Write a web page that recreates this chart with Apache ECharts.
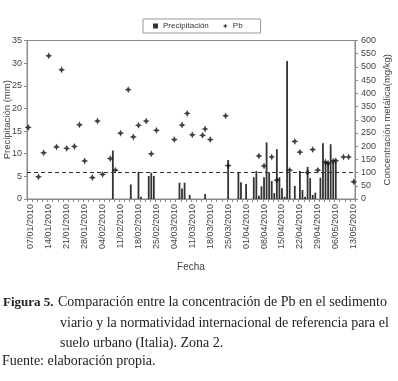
<!DOCTYPE html>
<html><head><meta charset="utf-8">
<script src="https://cdn.jsdelivr.net/npm/echarts@6/dist/echarts.min.js"></script>
<style>html,body{margin:0;padding:0;background:#fff}#c{width:398px;height:381px}</style>
</head><body><div id="c"></div>
<script>
// Daily categories 06/01/2010 .. 13/05/2010
const startDate = [2010, 0, 6];
const dayCount = 128;
const tickLabels = ['07/01/2010','14/01/2010','21/01/2010','28/01/2010','04/02/2010','11/02/2010','18/02/2010','25/02/2010','04/03/2010','11/03/2010','18/03/2010','25/03/2010','01/04/2010','08/04/2010','15/04/2010','22/04/2010','29/04/2010','06/05/2010','13/05/2010'];

const precipDates = ['08/02/2010','15/02/2010','18/02/2010','19/02/2010','22/02/2010','23/02/2010','24/02/2010','06/03/2010','07/03/2010','08/03/2010','10/03/2010','16/03/2010','25/03/2010','29/03/2010','30/03/2010','01/04/2010','04/04/2010','05/04/2010','06/04/2010','07/04/2010','08/04/2010','09/04/2010','10/04/2010','11/04/2010','12/04/2010','13/04/2010','14/04/2010','15/04/2010','16/04/2010','17/04/2010','18/04/2010','20/04/2010','22/04/2010','23/04/2010','24/04/2010','25/04/2010','26/04/2010','27/04/2010','28/04/2010','30/04/2010','01/05/2010','02/05/2010','03/05/2010','04/05/2010','05/05/2010','06/05/2010'];
const precipValues = [10.7,3.2,6.0,0.5,5.1,5.8,5.1,3.6,2.3,3.6,0.9,1.1,8.6,6.0,3.7,3.3,4.8,6.2,0.7,2.8,4.8,12.5,5.9,4.0,1.3,11.0,4.8,2.4,0.5,30.5,5.8,2.9,6.2,2.0,0.5,7.1,4.6,0.9,1.4,4.7,12.3,8.2,8.0,12.1,8.2,8.1];

const pbDates = ['06/01/2010','10/01/2010','12/01/2010','14/01/2010','17/01/2010','19/01/2010','21/01/2010','24/01/2010','26/01/2010','28/01/2010','31/01/2010','02/02/2010','04/02/2010','07/02/2010','09/02/2010','11/02/2010','14/02/2010','16/02/2010','18/02/2010','21/02/2010','23/02/2010','25/02/2010','04/03/2010','07/03/2010','09/03/2010','11/03/2010','15/03/2010','16/03/2010','18/03/2010','24/03/2010','25/03/2010','06/04/2010','08/04/2010','11/04/2010','13/04/2010','18/04/2010','20/04/2010','22/04/2010','25/04/2010','27/04/2010','29/04/2010','02/05/2010','03/05/2010','05/05/2010','06/05/2010','09/05/2010','11/05/2010','13/05/2010'];
const pbValues = [271,84,175,542,197,489,192,199,281,144,81,295,93,153,109,249,414,235,279,295,171,260,225,280,324,243,241,265,225,315,126,163,125,159,71,109,218,177,100,187,109,140,135,143,145,159,159,65];

const pbLimit = 100;
const leftTicks = {min:0, max:35, interval:5};
const rightTicks = {min:0, max:600, interval:50};

function pad(n){return (n<10?'0':'')+n;}
const categories = [];
for (let i=0;i<dayCount;i++){
  const d = new Date(Date.UTC(startDate[0], startDate[1], startDate[2]+i));
  categories.push(pad(d.getUTCDate())+'/'+pad(d.getUTCMonth()+1)+'/'+d.getUTCFullYear());
}
const precipData = categories.map(c => { const k = precipDates.indexOf(c); return k>=0 ? precipValues[k] : null; });
const pbData = categories.map(c => { const k = pbDates.indexOf(c); return k>=0 ? pbValues[k] : null; });

const star = 'path://M0,-10 L3.2,-3.2 L10,0 L3.2,3.2 L0,10 L-3.2,3.2 L-10,0 L-3.2,-3.2 Z';
const axisCol = '#8a8a8a';
const txtCol = '#444';
const serif = '"Liberation Serif", "Times New Roman", serif';

const chart = echarts.init(document.getElementById('c'), null, {renderer:'canvas'});
chart.setOption({
  animation:false,
  backgroundColor:'#fff',
  textStyle:{fontFamily:'Liberation Sans, Arial, sans-serif'},
  grid:{left:27, right:43, top:40.5, bottom:182, containLabel:false, outerBoundsMode:'none',
        show:true, borderColor:axisCol, borderWidth:1},
  legend:{
    left:143, top:19, orient:'horizontal',
    borderColor:'#999', borderWidth:1, padding:[3,18,3,10], itemGap:14,
    itemWidth:5, itemHeight:5,
    textStyle:{fontSize:8, color:'#333', fontFamily:'Liberation Sans, Arial'},
    data:[{name:'Precipitación', icon:'rect'},{name:'Pb', icon:star}]
  },
  xAxis:{
    type:'category', data:categories, boundaryGap:true,
    name:'Fecha', nameLocation:'middle', nameGap:63, nameMoveOverlap:false,
    nameTextStyle:{fontSize:10, color:txtCol},
    axisLine:{lineStyle:{color:axisCol}},
    axisTick:{show:true, interval:function(i){return i%2===0;}, length:3, lineStyle:{color:axisCol}},
    axisLabel:{rotate:90, fontSize:9, color:txtCol, margin:5,
      interval:function(i,v){return tickLabels.indexOf(v)>=0;}},
    splitLine:{show:false}
  },
  yAxis:[
    {type:'value', min:leftTicks.min, max:leftTicks.max, interval:leftTicks.interval,
     name:'Precipitación (mm)', nameLocation:'middle', nameRotate:90, nameGap:15, nameMoveOverlap:false,
     nameTextStyle:{fontSize:9.5, color:txtCol},
     axisLine:{show:true, lineStyle:{color:axisCol}},
     axisTick:{show:true, length:3, lineStyle:{color:axisCol}},
     axisLabel:{fontSize:9, color:txtCol, margin:5},
     splitLine:{show:false}},
    {type:'value', min:rightTicks.min, max:rightTicks.max, interval:rightTicks.interval, position:'right',
     name:'Concentración metálica(mg/kg)', nameLocation:'middle', nameRotate:90, nameGap:27, nameMoveOverlap:false,
     nameTextStyle:{fontSize:9.5, color:txtCol},
     axisLine:{show:true, lineStyle:{color:axisCol}},
     axisTick:{show:true, length:3, lineStyle:{color:axisCol}},
     axisLabel:{fontSize:9, color:txtCol, margin:6},
     splitLine:{show:false}}
  ],
  series:[
    {name:'Precipitación', type:'bar', yAxisIndex:0, data:precipData, barWidth:1.8,
     itemStyle:{color:'#333'}},
    {name:'Pb', type:'scatter', yAxisIndex:1, data:pbData, symbol:star, symbolSize:7,
     itemStyle:{color:'#111'},
     markLine:{silent:true, symbol:'none', label:{show:false},
       lineStyle:{color:'#333', type:[4,3], width:1},
       data:[{yAxis:pbLimit}]}}
  ],
  graphic:[
    {type:'text', left:3, top:296, style:{text:'Figura 5.', font:'bold 13px ' + serif, fill:'#222'}},
    {type:'text', left:58, top:295, style:{text:'Comparación entre la concentración de Pb en el sedimento', font:'14px ' + serif, fill:'#222'}},
    {type:'text', left:60, top:316, style:{text:'viario y la normatividad internacional de referencia para el', font:'14px ' + serif, fill:'#222'}},
    {type:'text', left:60, top:336, style:{text:'suelo urbano (Italia). Zona 2.', font:'14px ' + serif, fill:'#222'}},
    {type:'text', left:2, top:354, style:{text:'Fuente: elaboración propia.', font:'14px ' + serif, fill:'#222'}}
  ]
});
</script></body></html>
